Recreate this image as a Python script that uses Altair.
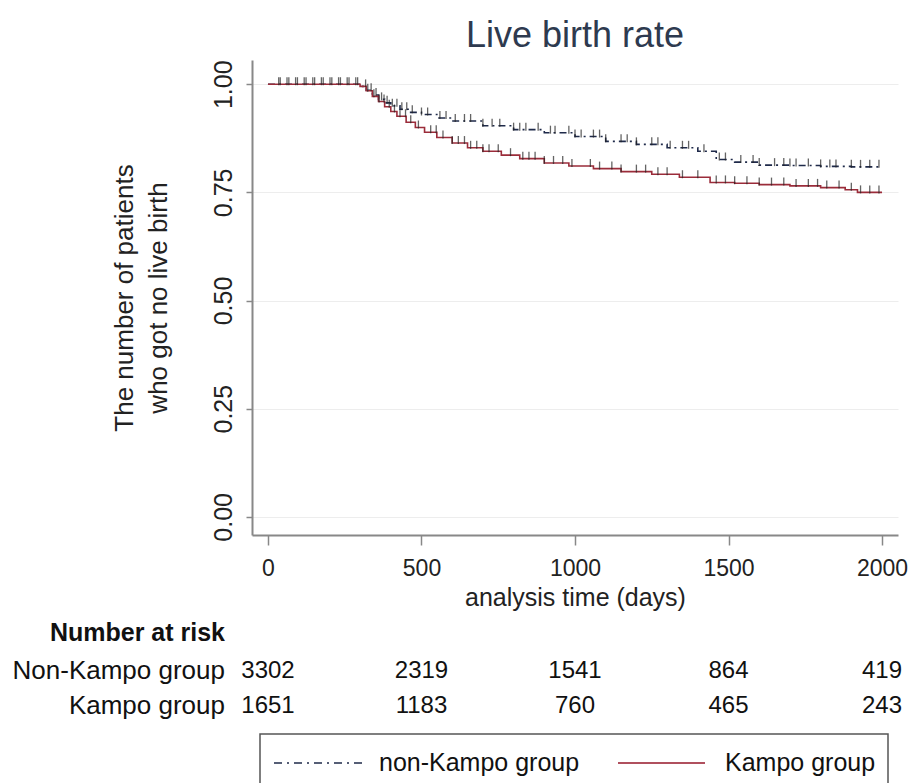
import altair as alt
import pandas as pd
import numpy as np

FONT = "Liberation Sans"

# Kaplan-Meier step curves
nk_time = [0, 300, 320, 340, 360, 380, 400, 430, 460, 500, 550, 600, 700, 800, 900, 1000,
           1100, 1200, 1300, 1400, 1460, 1520, 1600, 1700, 1800, 1900, 2000]
nk_surv = [1.0, 0.995, 0.986, 0.975, 0.965, 0.957, 0.95, 0.942, 0.935, 0.93, 0.922, 0.915,
           0.904, 0.895, 0.888, 0.879, 0.868, 0.861, 0.853, 0.845, 0.826, 0.82, 0.813,
           0.812, 0.81, 0.809, 0.808]
k_time = [0, 300, 320, 340, 360, 380, 400, 420, 450, 480, 510, 550, 600, 650, 700, 760, 820,
          900, 980, 1060, 1150, 1250, 1340, 1440, 1520, 1600, 1700, 1800, 1880, 1920, 2000]
k_surv = [1.0, 0.995, 0.985, 0.972, 0.96, 0.948, 0.937, 0.926, 0.912, 0.9, 0.889, 0.877,
          0.864, 0.853, 0.845, 0.836, 0.828, 0.818, 0.811, 0.805, 0.798, 0.792, 0.785,
          0.773, 0.771, 0.768, 0.765, 0.761, 0.756, 0.75, 0.75]

# censoring times (tick marks)
nk_cens = [35, 62, 90, 118, 146, 174, 202, 230, 258, 286, 318, 336, 352, 370, 388, 405, 420,
           436, 452, 470, 500, 520, 560, 580, 610, 640, 660, 700, 730, 755, 800, 820, 840,
           880, 920, 935, 980, 1000, 1020, 1060, 1080, 1100, 1150, 1170, 1200, 1250, 1270,
           1310, 1350, 1370, 1420, 1470, 1490, 1540, 1580, 1600, 1650, 1680, 1700, 1720,
           1760, 1800, 1830, 1850, 1900, 1930, 1960, 1990]
k_cens = [40, 68, 96, 124, 152, 180, 208, 236, 264, 292, 325, 345, 362, 378, 395, 412, 430,
          448, 465, 490, 530, 548, 570, 600, 620, 640, 660, 680, 700, 720, 750, 790, 830,
          850, 870, 900, 930, 960, 990, 1050, 1080, 1120, 1150, 1200, 1230, 1270, 1300, 1350,
          1400, 1460, 1490, 1520, 1560, 1600, 1640, 1680, 1720, 1760, 1790, 1820, 1860, 1900,
          1930, 1960, 1990]

# number at risk
risk_times = [0, 500, 1000, 1500, 2000]
risk_nonkampo = [3302, 2319, 1541, 864, 419]
risk_kampo = [1651, 1183, 760, 465, 243]
row_names = ["Non-Kampo group", "Kampo group"]

groups = ["non-Kampo group", "Kampo group"]
colors = ["#1f2a4a", "#9b2c3a"]

curve_df = pd.concat([
    pd.DataFrame({"t": nk_time, "s": nk_surv, "g": groups[0]}),
    pd.DataFrame({"t": k_time, "s": k_surv, "g": groups[1]}),
])


def at(times, surv, c):
    idx = np.searchsorted(np.array(times), np.array(c), side="right") - 1
    return [surv[i] for i in idx]


cens_df = pd.concat([
    pd.DataFrame({"t": nk_cens, "s": at(nk_time, nk_surv, nk_cens), "g": groups[0]}),
    pd.DataFrame({"t": k_cens, "s": at(k_time, k_surv, k_cens), "g": groups[1]}),
])

risk_df = pd.concat([
    pd.DataFrame({"t": risk_times, "n": risk_nonkampo, "row": row_names[0]}),
    pd.DataFrame({"t": risk_times, "n": risk_kampo, "row": row_names[1]}),
])

xs = alt.Scale(domain=[-52, 2052], nice=False, zero=False)
ys = alt.Scale(domain=[-0.042, 1.056], nice=False, zero=False)

x_axis = alt.Axis(values=risk_times, format="d", title="analysis time (days)", tickSize=10,
                  labelFontSize=23, titleFontSize=25, titleFontWeight="normal",
                  labelPadding=12, titlePadding=5, grid=False, labelFlush=False)
y_axis = alt.Axis(values=[0, 0.25, 0.5, 0.75, 1.0], format=".2f", labelAngle=270,
                  tickSize=6, labelFontSize=25, labelPadding=10,
                  title=["The number of patients", "who got no live birth"],
                  titleFontSize=26, titleFontWeight="normal", titlePadding=40,
                  titleLineHeight=34, grid=True, gridColor="#ededed", labelFlush=False)

lines = alt.Chart(curve_df).mark_line(interpolate="step-after", strokeWidth=1.6).encode(
    x=alt.X("t:Q", scale=xs, axis=x_axis),
    y=alt.Y("s:Q", scale=ys, axis=y_axis),
    color=alt.Color("g:N", scale=alt.Scale(domain=groups, range=colors), legend=None),
    strokeDash=alt.StrokeDash("g:N", scale=alt.Scale(domain=groups, range=[[7, 4, 2, 4], [1, 0]]),
                              legend=None),
)

ticks = alt.Chart(cens_df).mark_tick(orient="vertical", size=8, thickness=1.3,
                                     color="#222222", yOffset=-3).encode(
    x=alt.X("t:Q", scale=xs),
    y=alt.Y("s:Q", scale=ys),
)

row_y = [611, 646]
risk_layers = []
for name, yy in zip(row_names, row_y):
    risk_layers.append(
        alt.Chart(risk_df).transform_filter(alt.datum.row == name).mark_text(
            fontSize=24, font=FONT, color="#111111", baseline="middle", align="center").encode(
            x=alt.X("t:Q", scale=xs), y=alt.value(yy), text="n:Q")
    )
    risk_layers.append(
        alt.Chart(pd.DataFrame({"row": [name]})).mark_text(
            fontSize=26, font=FONT, color="#111111", align="right", baseline="middle").encode(
            x=alt.value(-27), y=alt.value(yy), text="row:N")
    )

risk_head = alt.Chart(pd.DataFrame({"lab": ["Number at risk"]})).mark_text(
    fontSize=25, font=FONT, fontWeight="bold", color="#111111", align="right",
    baseline="middle").encode(x=alt.value(-27), y=alt.value(573), text="lab:N")

leg_box = alt.Chart(pd.DataFrame({"a": [0]})).mark_rect(
    fill="white", stroke="#555555", strokeWidth=1.5).encode(
    x=alt.value(8), x2=alt.value(636), y=alt.value(674), y2=alt.value(740))

leg_nk = alt.Chart(pd.DataFrame({"a": [0]})).mark_rule(
    color=colors[0], strokeWidth=1.6, strokeDash=[8, 5, 2, 5]).encode(
    x=alt.value(22), x2=alt.value(112), y=alt.value(703))
leg_k = alt.Chart(pd.DataFrame({"a": [0]})).mark_rule(
    color="#b0505e", strokeWidth=1.8).encode(
    x=alt.value(366), x2=alt.value(453), y=alt.value(703))
leg_text = alt.Chart(pd.DataFrame({"lab": groups, "px": [127, 473]})).mark_text(
    fontSize=25, font=FONT, color="#111111", align="left", baseline="middle").encode(
    x=alt.X("px:Q", scale=None), y=alt.value(703), text="lab:N")

chart = alt.layer(lines, ticks, *risk_layers, risk_head, leg_box, leg_nk, leg_k,
                  leg_text).properties(
    width=646, height=475,
    title=alt.TitleParams("Live birth rate", fontSize=36, font=FONT, color="#2e3a4f",
                          fontWeight="normal", anchor="middle", offset=5),
    autosize=alt.AutoSizeParams(type="none"),
    padding={"left": 244, "top": 52, "right": 10, "bottom": 248},
).configure_view(stroke=None).configure_axis(
    labelFont=FONT, titleFont=FONT, domainColor="#888888", domainWidth=2,
    tickColor="#888888", tickWidth=1.5, labelColor="#222222", titleColor="#222222",
)

chart.save("out.html", embed_options={"renderer": "svg", "actions": False})
